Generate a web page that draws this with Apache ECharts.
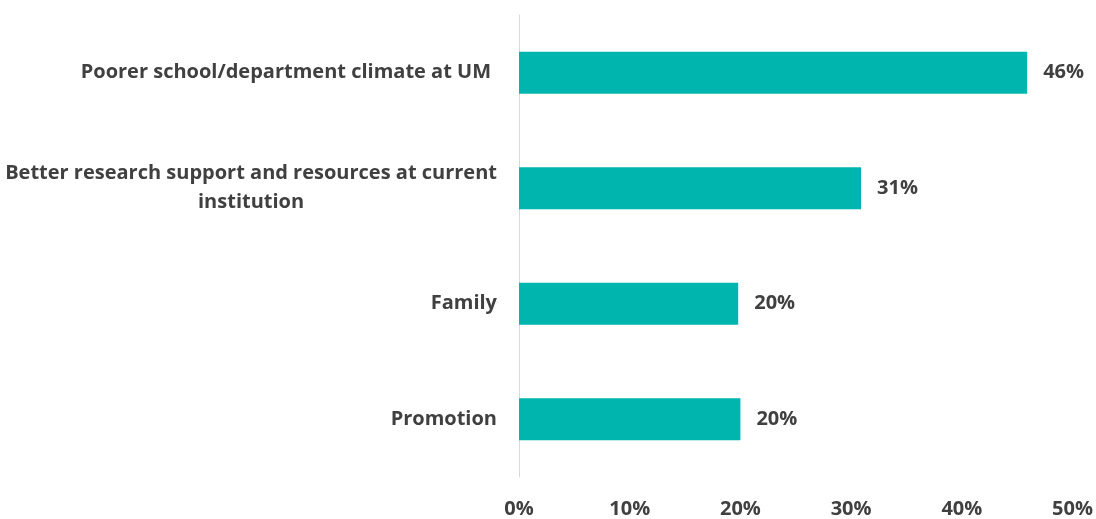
<!DOCTYPE html>
<html>
<head>
<meta charset="utf-8">
<script src="https://cdn.jsdelivr.net/npm/echarts@6/dist/echarts.min.js"></script>
<style>
	html, body { margin: 0; padding: 0; background: #fff; }
	#chart { width: 1096px; height: 519px; }
</style>
</head>
<body>
<div id="chart"></div>
<script>
// categories, top to bottom
const categories = [
	"Poorer school/department climate at UM",
	"Better research support and resources at current\ninstitution",
	"Family",
	"Promotion",
];
// share of respondents (%)
const values = [45.9, 30.9, 19.8, 20.0];
const valueLabels = ["46%", "31%", "20%", "20%"];
const xTicks = [0, 10, 20, 30, 40, 50];

const textColor = "#404040";
const font = "Open Sans";
const fs = 20;

const chart = echarts.init(document.getElementById("chart"));
const option = {
	animation: false,
	grid: {
		left: 519,
		right: 20,
		top: 15,
		bottom: 40,
		containLabel: false,
	},
	xAxis: {
		type: "value",
		min: xTicks[0],
		max: xTicks[xTicks.length - 1],
		interval: 10,
		splitLine: { show: false },
		axisLine: { show: false },
		axisTick: { show: false },
		axisLabel: {
			margin: 22,
			color: textColor,
			fontFamily: font,
			fontWeight: "bold",
			fontSize: fs,
			formatter: (v) => v + "%",
		},
	},
	yAxis: {
		type: "category",
		inverse: true,
		data: categories,
		axisLine: { show: true, lineStyle: { color: "#d9d9d9", width: 1 } },
		axisTick: { show: false },
		axisLabel: {
			margin: 22,
			color: textColor,
			fontFamily: font,
			fontWeight: "bold",
			fontSize: fs,
			lineHeight: 29,
			formatter: (v, i) => {
				const parts = v.split("\n");
				// first label sits a little further from the axis in the original
				if (i === 0) return v + "{s|}";
				if (parts.length === 1) return v;
				// wrapped line is centred under the first
				return parts[0] + "\n{c|" + parts[1] + "}";
			},
			rich: {
				c: {
					color: textColor,
					fontFamily: font,
					fontWeight: "bold",
					fontSize: fs,
					lineHeight: 29,
					align: "center",
				},
				s: { width: 6 },
			},
		},
	},
	series: [
		{
			type: "bar",
			data: values,
			barWidth: 42,
			itemStyle: { color: "#00b5ad" },
			label: {
				show: true,
				position: "right",
				distance: 16,
				color: textColor,
				fontFamily: font,
				fontWeight: "bold",
				fontSize: fs,
				formatter: (p) => valueLabels[p.dataIndex],
			},
		},
	],
};
chart.setOption(option);
</script>
</body>
</html>
